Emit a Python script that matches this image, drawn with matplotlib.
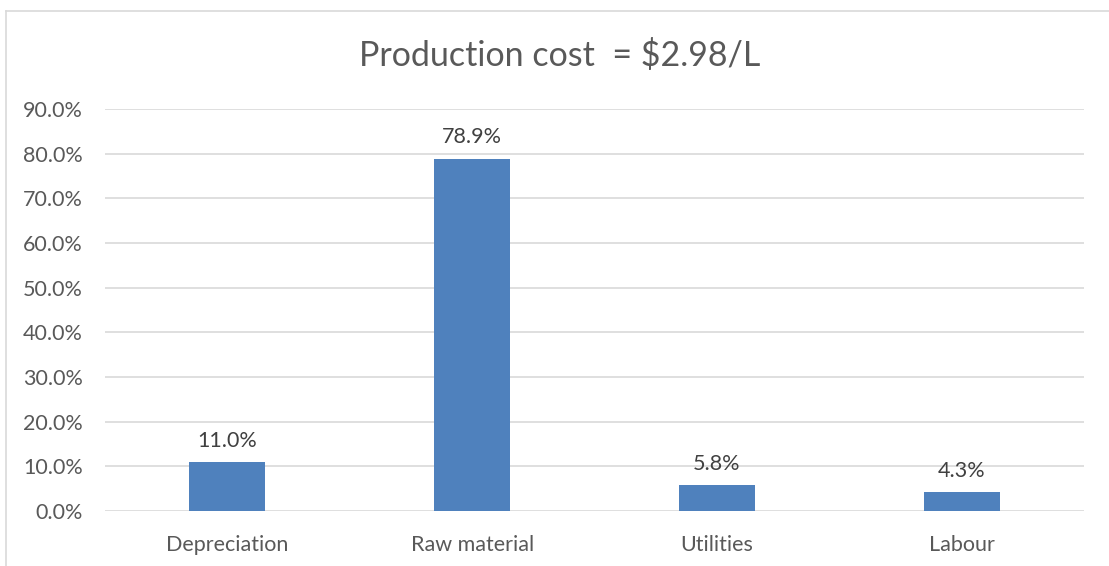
import matplotlib
matplotlib.use("Agg")
import matplotlib.pyplot as plt
from matplotlib.lines import Line2D

categories = ["Depreciation", "Raw material", "Utilities", "Labour"]
values = [11.0, 78.9, 5.8, 4.3]
yticks = [0, 10, 20, 30, 40, 50, 60, 70, 80, 90]
title = "Production cost  = $2.98/L"

plt.rcParams['font.family'] = ['Lato', 'DejaVu Sans']

W, H = 1109, 566
fig = plt.figure(figsize=(W / 100, H / 100), dpi=100)
ax = fig.add_axes([105 / W, 55 / H, (1084 - 105) / W, (511 - 109) / H])

x = list(range(len(categories)))
ax.bar(x, values, width=0.31, color="#4F81BD", zorder=3)
ax.set_xlim(-0.5, len(categories) - 0.5)
ax.set_ylim(0, 90)
ax.set_yticks(yticks)
ax.set_yticklabels([f"{v:.1f}%" for v in yticks])
ax.set_xticks(x)
ax.set_xticklabels(categories)
ax.tick_params(axis='both', length=0, colors="#595959", labelsize=15.5)
ax.tick_params(axis='y', pad=16)
ax.tick_params(axis='x', pad=17)
for s in ax.spines.values():
    s.set_visible(False)
ax.grid(axis='y', color="#d9d9d9", linewidth=1.2, zorder=0)
ax.set_axisbelow(True)

for xi, v in zip(x, values):
    ax.annotate(f"{v:.1f}%", (xi, v), xytext=(0, 11), textcoords="offset points",
                ha="center", va="baseline", fontsize=15.5, color="#404040", zorder=4)

fig.text((362 + 758) / 2 / W, 1 - 56 / H, title, ha="center", va="center",
         fontsize=24.5, color="#595959")

# chart border (left & top visible)
fig.add_artist(Line2D([5.5 / W, 5.5 / W], [0, 1 - 10.5 / H], transform=fig.transFigure,
                      color="#d9d9d9", linewidth=1.2))
fig.add_artist(Line2D([5.5 / W, 1], [1 - 10.5 / H, 1 - 10.5 / H], transform=fig.transFigure,
                      color="#d9d9d9", linewidth=1.2))

fig.savefig("out.png", dpi=100)
